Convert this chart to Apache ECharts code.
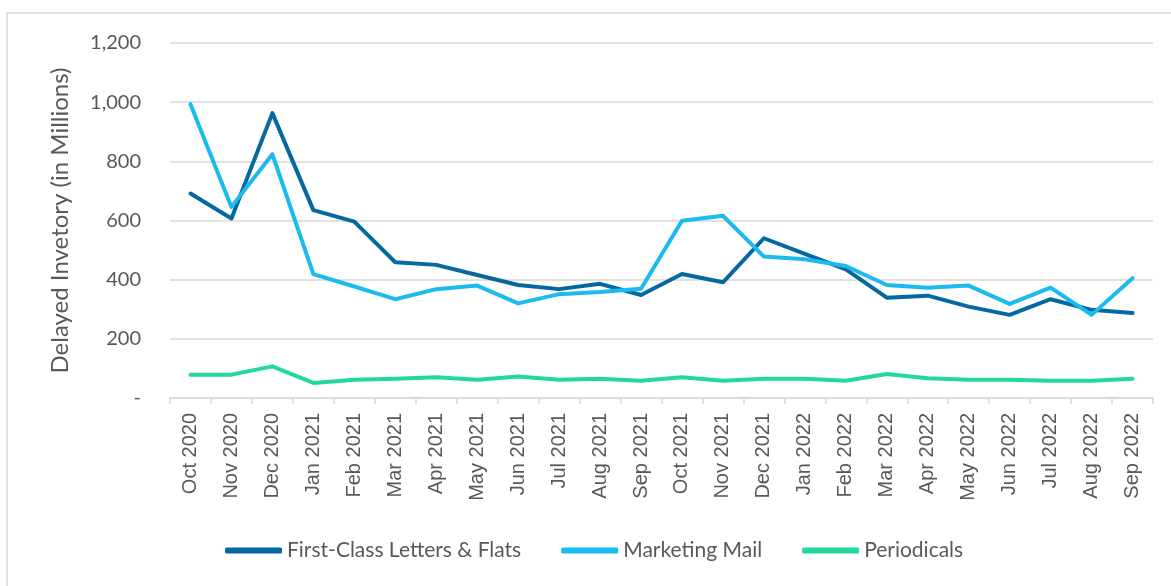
<!DOCTYPE html>
<html>
<head>
    <meta charset="utf-8"/>
    <title>Delayed Inventory</title>
    <script src="https://cdn.jsdelivr.net/npm/echarts@6/dist/echarts.min.js"></script>
    <style>
        html, body { margin: 0; padding: 0; background: #fff; }
        #chart { width: 1171px; height: 586px; }
    </style>
</head>
<body>
<div id="chart"></div>
<script type="text/javascript">
    // 月份
    var months = ['Oct 2020', 'Nov 2020', 'Dec 2020', 'Jan 2021', 'Feb 2021', 'Mar 2021',
        'Apr 2021', 'May 2021', 'Jun 2021', 'Jul 2021', 'Aug 2021', 'Sep 2021',
        'Oct 2021', 'Nov 2021', 'Dec 2021', 'Jan 2022', 'Feb 2022', 'Mar 2022',
        'Apr 2022', 'May 2022', 'Jun 2022', 'Jul 2022', 'Aug 2022', 'Sep 2022'];

    var firstClass = [691, 607, 963, 635, 596, 459, 450, 416, 382, 368, 386, 348,
        419, 391, 540, 487, 435, 339, 346, 309, 281, 334, 298, 287];
    var marketingMail = [993, 646, 824, 419, 377, 334, 368, 380, 320, 351, 358, 369,
        599, 616, 478, 469, 446, 382, 373, 380, 318, 373, 281, 405];
    var periodicals = [79, 79, 107, 51, 62, 65, 70, 62, 73, 62, 65, 58,
        70, 58, 65, 65, 58, 81, 67, 62, 62, 58, 58, 65];

    var seriesNames = ['First-Class Letters & Flats', 'Marketing Mail', 'Periodicals'];
    var colors = ['#0568a1', '#1bbbef', '#22d99b'];

    var myChart = echarts.init(document.getElementById('chart'));

    function lineSeries(name, data, color) {
        return {
            name: name,
            type: 'line',
            data: data,
            symbol: 'none',
            lineStyle: { width: 4, color: color, cap: 'round', join: 'round' },
            itemStyle: { color: color }
        };
    }

    myChart.setOption({
        animation: false,
        color: colors,
        textStyle: { fontFamily: 'Lato' },
        // 外框
        graphic: [{
            type: 'rect',
            shape: { x: 7, y: 13, width: 1200, height: 600 },
            style: { fill: 'none', stroke: '#d9d9d9', lineWidth: 1.5 },
            silent: true
        }],
        grid: { left: 170, right: 18, top: 43, bottom: 188 },
        legend: {
            data: seriesNames,
            bottom: 20,
            left: 220,
            icon: 'roundRect',
            itemWidth: 57,
            itemHeight: 6,
            itemGap: 40,
            textStyle: { color: '#595959', fontSize: 21, fontFamily: 'Lato' }
        },
        xAxis: {
            type: 'category',
            data: months,
            boundaryGap: true,
            axisLine: { lineStyle: { color: '#d9d9d9', width: 1.5 } },
            axisTick: { show: true, length: 6, lineStyle: { color: '#d9d9d9', width: 1.5 } },
            axisLabel: {
                rotate: 90,
                interval: 0,
                margin: 15,
                color: '#595959',
                fontSize: 20,
                fontFamily: 'Liberation Sans'
            },
            splitLine: { show: false }
        },
        yAxis: {
            type: 'value',
            min: 0,
            max: 1200,
            interval: 200,
            name: 'Delayed Invetory (in Millions)',
            nameLocation: 'middle',
            nameGap: 98,
            nameRotate: 90,
            nameTextStyle: { color: '#595959', fontSize: 24, fontFamily: 'Lato' },
            axisLine: { show: false },
            axisTick: { show: false },
            axisLabel: {
                margin: 29,
                color: '#595959',
                fontSize: 20,
                fontFamily: 'Lato',
                formatter: function (v) {
                    if (v === 0) return '-';
                    return v.toLocaleString('en-US');
                }
            },
            splitLine: { lineStyle: { color: '#d9d9d9', width: 1.5 } }
        },
        series: [
            lineSeries(seriesNames[0], firstClass, colors[0]),
            lineSeries(seriesNames[1], marketingMail, colors[1]),
            lineSeries(seriesNames[2], periodicals, colors[2])
        ]
    });
</script>
</body>
</html>
